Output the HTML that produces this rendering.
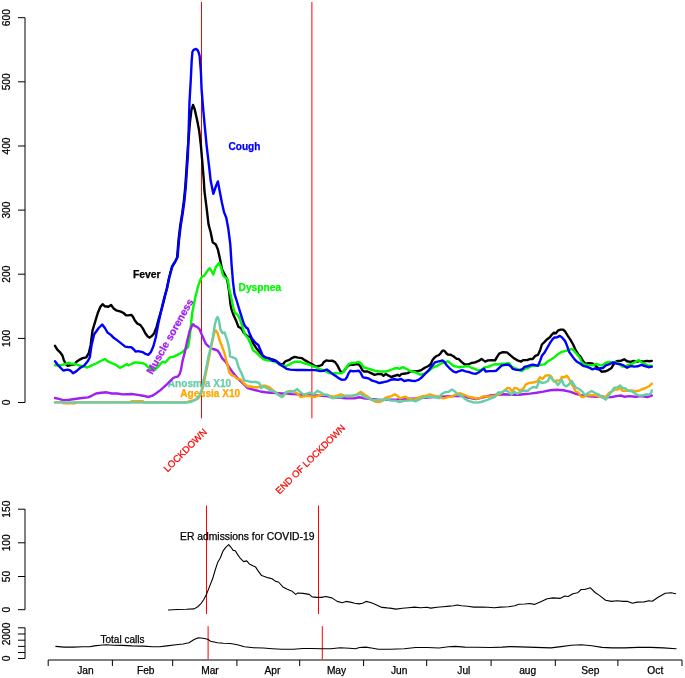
<!DOCTYPE html>
<html><head><meta charset="utf-8"><style>
html,body{margin:0;padding:0;background:#fff;}
svg{display:block;will-change:transform;}
</style></head><body>
<svg width="685" height="678" viewBox="0 0 685 678">
<rect width="685" height="678" fill="#fff"/>
<g stroke="#000" stroke-width="1" fill="none">
<line x1="25" y1="17.7" x2="25" y2="402.5"/>
<line x1="18" y1="402.5" x2="25" y2="402.5"/>
<line x1="18" y1="338.4" x2="25" y2="338.4"/>
<line x1="18" y1="274.2" x2="25" y2="274.2"/>
<line x1="18" y1="210.1" x2="25" y2="210.1"/>
<line x1="18" y1="146.0" x2="25" y2="146.0"/>
<line x1="18" y1="81.8" x2="25" y2="81.8"/>
<line x1="18" y1="17.7" x2="25" y2="17.7"/>
</g>
<text transform="translate(9.9,402.5) rotate(-90)" text-anchor="middle" font-family='"Liberation Sans", sans-serif' font-size="10.2" fill="#000" stroke="#000" stroke-width="0.25">0</text>
<text transform="translate(9.9,338.4) rotate(-90)" text-anchor="middle" font-family='"Liberation Sans", sans-serif' font-size="10.2" fill="#000" stroke="#000" stroke-width="0.25">100</text>
<text transform="translate(9.9,274.2) rotate(-90)" text-anchor="middle" font-family='"Liberation Sans", sans-serif' font-size="10.2" fill="#000" stroke="#000" stroke-width="0.25">200</text>
<text transform="translate(9.9,210.1) rotate(-90)" text-anchor="middle" font-family='"Liberation Sans", sans-serif' font-size="10.2" fill="#000" stroke="#000" stroke-width="0.25">300</text>
<text transform="translate(9.9,146.0) rotate(-90)" text-anchor="middle" font-family='"Liberation Sans", sans-serif' font-size="10.2" fill="#000" stroke="#000" stroke-width="0.25">400</text>
<text transform="translate(9.9,81.8) rotate(-90)" text-anchor="middle" font-family='"Liberation Sans", sans-serif' font-size="10.2" fill="#000" stroke="#000" stroke-width="0.25">500</text>
<text transform="translate(9.9,17.7) rotate(-90)" text-anchor="middle" font-family='"Liberation Sans", sans-serif' font-size="10.2" fill="#000" stroke="#000" stroke-width="0.25">600</text>
<text x="228.5" y="149.8" font-family='"Liberation Sans", sans-serif' font-size="10.1" font-weight="bold" fill="#0000ff" stroke="#0000ff" stroke-width="0.25" text-anchor="start">Cough</text>
<text x="132.9" y="278.2" font-family='"Liberation Sans", sans-serif' font-size="10.4" font-weight="bold" fill="#000" stroke="#000" stroke-width="0.25" text-anchor="start">Fever</text>
<text x="238.6" y="291.1" font-family='"Liberation Sans", sans-serif' font-size="10.2" font-weight="bold" fill="#00f800" stroke="#00f800" stroke-width="0.25" text-anchor="start">Dyspnea</text>
<text x="167.8" y="387.1" font-family='"Liberation Sans", sans-serif' font-size="10.1" font-weight="bold" fill="#66cdaa" stroke="#66cdaa" stroke-width="0.25" text-anchor="start">Anosmia X10</text>
<text x="180.2" y="396.5" font-family='"Liberation Sans", sans-serif' font-size="10.1" font-weight="bold" fill="#ffa500" stroke="#ffa500" stroke-width="0.25" text-anchor="start">Ageusia X10</text>
<g stroke="#f00" stroke-width="1">
<line x1="201.5" y1="2" x2="201.5" y2="418.3"/>
<line x1="311.9" y1="2" x2="311.9" y2="418.3"/>
</g>
<polyline points="55.0,345.8 57.1,349.3 60.6,352.8 62.4,355.5 63.8,359.9 65.9,364.3 67.7,365.8 70.4,365.2 74.8,364.3 76.5,361.7 79.2,359.9 82.7,358.1 86.3,357.3 88.9,352.8 90.7,344.9 92.5,330.7 95.1,321.9 97.8,313.0 100.4,306.8 102.6,304.2 104.9,306.3 108.4,306.8 111.1,305.0 113.7,308.6 116.4,310.4 120.8,311.6 123.5,313.0 126.1,315.3 128.2,315.4 131.5,314.9 133.1,317.0 134.7,320.3 137.2,323.5 140.4,325.1 142.8,328.4 145.3,333.2 147.7,336.5 149.6,337.6 151.8,336.0 154.2,333.2 156.6,326.8 159.0,317.8 161.5,309.7 163.6,302.0 166.8,288.5 168.9,278.5 171.9,267.0 175.0,262.0 177.1,257.8 178.5,240.3 180.2,225.8 182.2,213.4 183.9,201.0 185.3,186.5 186.4,170.0 187.9,147.4 189.9,122.6 191.4,110.2 193.0,105.0 194.7,109.2 197.2,120.5 199.2,130.9 200.9,145.3 202.3,161.8 203.8,180.0 204.4,190.7 206.5,207.2 208.6,224.8 210.6,232.0 212.7,242.3 215.8,244.4 217.9,249.6 220.0,258.9 222.0,269.2 225.1,275.4 227.2,279.6 229.2,292.0 229.7,297.0 230.4,303.8 231.6,309.7 233.7,315.6 236.0,320.4 238.4,326.8 240.2,327.7 241.9,329.2 243.7,332.7 246.0,335.0 247.7,336.4 250.4,336.9 253.0,343.1 256.5,348.4 260.1,352.8 263.6,357.3 267.2,358.1 270.7,359.0 274.2,359.9 276.9,361.7 280.4,364.0 283.1,364.3 284.9,361.7 286.6,360.8 289.3,359.9 291.9,358.1 294.6,356.9 298.1,357.6 301.7,358.1 305.2,360.4 308.5,362.4 312.1,364.2 315.6,366.6 319.2,366.0 322.1,364.8 323.9,361.9 326.2,360.4 329.2,360.9 332.1,360.7 335.1,362.1 337.4,365.4 339.8,370.1 341.6,372.7 343.9,371.3 346.3,367.8 348.7,365.2 351.0,364.8 353.4,364.8 355.7,364.0 358.7,364.2 360.5,366.6 362.2,370.1 364.0,371.5 367.5,371.5 371.1,373.1 374.6,374.8 378.2,373.9 381.8,374.2 383.5,375.8 385.9,373.9 388.3,375.4 391.2,377.0 394.2,376.0 397.7,374.8 399.5,376.0 401.2,374.2 403.6,373.7 407.7,373.1 410.7,371.5 414.2,371.3 417.8,371.1 421.3,370.1 424.8,367.8 428.4,366.0 430.7,364.2 432.5,360.1 434.3,357.7 436.6,356.0 439.0,355.0 440.8,353.0 442.5,350.6 444.3,350.6 446.1,353.0 447.8,354.5 450.8,354.8 453.7,356.5 456.7,358.9 458.5,358.9 461.5,361.9 464.4,364.2 468.0,364.5 471.5,363.0 475.1,362.4 478.6,360.9 481.5,358.9 485.1,361.6 488.0,360.4 491.6,360.1 495.1,360.4 496.9,357.1 499.2,353.6 502.8,352.2 506.9,352.4 510.5,355.4 514.0,358.3 517.5,360.4 521.1,361.6 523.4,360.1 527.0,360.1 530.5,358.9 532.7,359.1 535.3,355.8 538.0,354.8 540.0,350.5 541.9,344.5 544.6,341.9 547.2,339.2 549.9,337.2 551.9,334.6 553.9,332.6 555.9,333.3 557.9,330.6 560.5,329.6 563.2,329.6 565.2,331.7 567.8,335.9 570.5,339.9 573.1,344.5 575.8,350.5 578.4,354.5 580.4,356.5 582.4,359.8 585.1,363.8 588.4,363.1 592.4,363.5 595.7,365.8 598.3,368.4 601.6,371.7 605.3,371.3 608.3,370.1 611.2,368.3 613.0,365.4 614.7,362.4 617.7,360.9 620.6,360.9 624.2,359.3 627.1,361.3 630.7,361.9 633.6,360.9 636.6,361.9 639.5,360.9 643.1,361.6 646.6,360.9 649.5,361.3 651.8,360.9" fill="none" stroke="#000" stroke-width="2.4" stroke-linejoin="round" stroke-linecap="round"/>
<polyline points="55.0,365.2 60.6,365.2 65.9,364.0 68.6,362.6 71.2,364.0 75.7,364.0 80.1,365.8 84.5,366.5 87.2,367.5 90.7,365.8 96.0,363.5 101.3,360.8 104.9,359.0 108.4,361.7 112.8,363.5 116.4,365.2 119.9,367.9 123.5,366.1 127.0,364.0 128.2,365.3 131.5,364.0 134.7,362.4 140.0,362.8 143.1,363.3 145.7,364.6 147.7,366.9 149.8,368.5 152.4,368.7 155.0,369.8 157.0,367.7 159.6,365.1 162.2,362.0 163.7,361.8 165.3,362.6 167.4,360.0 170.0,357.4 173.6,356.8 176.9,355.1 180.1,353.5 182.6,351.9 185.0,349.5 188.1,347.0 189.7,337.3 191.0,324.3 192.2,313.0 193.8,304.9 195.1,298.2 198.2,285.8 201.3,277.5 204.4,275.4 207.1,271.3 209.6,268.2 211.7,271.3 213.3,274.4 215.8,267.2 218.9,263.0 221.0,267.2 223.0,275.4 225.1,277.5 227.2,278.5 228.3,282.8 229.4,290.1 230.7,295.0 231.9,300.9 233.1,306.8 234.8,312.7 237.2,314.5 239.0,316.8 240.7,321.5 242.5,326.8 244.9,334.5 247.7,337.8 250.4,343.1 253.0,350.2 256.5,352.8 260.1,356.4 263.6,359.4 267.2,360.4 272.5,360.8 276.9,362.6 281.3,365.2 284.9,366.5 288.4,365.2 291.9,362.9 295.5,361.7 299.9,361.7 304.3,363.5 308.5,364.2 312.1,366.0 315.6,367.2 319.2,368.9 322.7,370.1 325.6,371.3 329.8,373.4 334.5,373.1 338.0,373.4 341.6,373.4 343.9,371.3 346.3,367.5 348.7,364.2 351.6,363.0 354.6,362.8 357.5,362.1 359.9,362.4 361.6,364.2 364.0,367.5 367.5,368.3 371.1,369.5 374.6,370.7 378.2,371.3 381.7,371.5 385.9,371.5 388.8,370.7 391.8,369.5 394.7,368.3 397.7,368.0 399.5,368.9 402.4,367.2 404.8,368.0 407.7,369.5 410.7,371.3 414.2,371.9 417.2,373.1 420.1,374.6 423.1,374.2 426.0,372.7 429.0,370.7 431.9,368.3 434.9,366.6 437.8,365.6 440.8,363.6 443.7,362.4 446.1,361.9 447.8,361.3 450.8,363.6 453.7,366.0 456.7,366.6 459.7,367.2 464.4,366.6 468.0,366.0 471.5,367.8 475.1,368.9 478.6,370.7 482.1,369.5 484.5,367.5 488.0,366.8 491.6,365.4 495.1,364.2 498.1,364.5 502.2,363.6 505.7,363.6 508.7,363.0 511.6,366.6 515.2,368.3 518.7,369.5 521.7,371.1 524.6,368.9 528.2,367.8 531.7,366.0 535.3,365.8 540.6,364.8 544.6,364.4 547.2,361.8 551.2,359.5 554.5,357.1 557.9,354.2 561.8,351.8 565.8,350.8 569.1,349.9 571.8,348.9 574.4,351.2 577.1,354.5 579.8,357.8 581.7,362.2 584.4,364.4 588.4,365.1 592.4,365.4 596.3,364.0 599.7,365.1 602.4,365.4 605.3,363.0 608.8,361.9 611.8,362.4 615.3,362.4 618.9,363.6 622.4,366.6 625.4,366.6 628.3,364.8 631.9,364.0 635.4,361.9 638.9,360.1 641.9,362.4 644.8,364.2 648.4,365.4 651.8,366.0" fill="none" stroke="#00f800" stroke-width="2.4" stroke-linejoin="round" stroke-linecap="round"/>
<text x="152.2" y="375" font-family='"Liberation Sans", sans-serif' font-size="10.5" font-weight="bold" fill="#a020f0" stroke="#a020f0" stroke-width="0.25" text-anchor="start" transform="rotate(-60.5 152.2 375)">Muscle soreness</text>
<polyline points="55.0,361.2 58.0,365.2 63.3,370.5 67.7,369.6 70.4,370.5 73.0,373.2 76.5,371.1 80.1,367.9 84.5,365.2 88.1,360.8 89.8,357.3 91.6,344.9 94.2,334.2 98.7,328.0 102.2,324.5 104.9,328.0 107.5,332.5 111.1,335.1 113.7,337.8 117.3,340.4 120.8,343.1 125.2,346.6 128.0,347.0 131.5,347.3 133.9,349.5 135.5,351.6 138.0,351.1 140.4,351.6 142.8,352.2 145.3,353.8 148.5,354.8 150.9,351.9 153.4,346.2 155.8,337.3 158.2,324.3 160.7,313.0 162.1,306.4 164.1,298.2 167.2,287.8 169.3,277.5 172.4,266.1 175.5,261.0 177.6,256.8 179.0,240.3 180.7,225.8 182.7,213.4 184.4,201.0 185.8,186.5 186.9,170.0 187.9,155.6 189.5,101.9 190.7,81.3 191.7,60.6 192.4,52.0 193.6,49.8 195.9,49.0 197.4,49.9 198.6,52.3 199.6,55.8 200.9,72.0 201.6,89.6 203.1,108.1 204.8,126.7 206.6,145.3 208.3,159.8 209.5,170.0 210.6,180.3 213.3,193.8 215.8,186.5 217.9,181.4 220.0,192.7 222.0,203.1 224.1,212.4 226.2,217.5 228.2,227.9 230.3,244.4 231.6,265.0 233.1,282.8 234.5,293.8 236.8,301.0 238.5,306.8 240.3,312.7 242.2,318.6 244.1,324.5 246.0,327.4 247.8,328.6 249.5,333.4 252.1,338.7 255.7,343.1 258.3,344.9 260.1,349.3 262.7,355.5 265.4,357.3 268.9,358.1 272.5,360.8 276.0,360.8 279.6,364.3 283.1,366.5 286.6,368.8 290.2,369.6 297.3,370.0 304.3,370.0 309.7,370.1 315.6,370.1 320.3,371.1 323.9,370.7 326.8,369.5 328.6,370.7 332.1,373.7 335.7,376.0 339.2,378.4 341.6,379.8 345.1,379.6 346.9,377.2 348.7,373.1 350.4,370.7 352.8,371.3 355.7,371.1 358.7,370.7 360.5,372.5 362.8,377.2 365.2,377.8 368.7,378.4 372.3,380.7 375.8,381.7 379.3,383.1 381.7,382.5 383.5,382.2 387.1,381.3 390.6,379.8 394.2,379.3 397.7,379.8 401.2,379.0 404.2,381.0 408.3,380.1 411.9,380.7 415.4,381.0 418.9,379.6 421.9,377.2 424.8,374.2 428.4,370.7 431.9,366.0 434.9,362.4 437.8,361.6 440.8,360.9 442.5,360.4 444.3,361.9 446.7,365.2 449.6,368.3 453.2,371.3 456.1,372.5 458.5,371.3 462.1,370.1 465.6,371.3 469.2,372.2 472.7,373.4 475.6,373.9 478.6,372.5 481.5,370.4 483.9,368.7 485.7,371.5 489.2,371.1 492.8,371.1 496.3,370.7 498.7,368.3 501.6,365.6 505.1,364.8 508.7,364.8 511.0,366.6 512.8,368.9 516.4,369.9 519.9,370.1 522.8,368.9 524.6,366.8 528.2,366.0 531.7,364.8 534.0,364.8 538.0,365.8 540.0,361.1 541.9,355.8 544.6,352.5 547.2,347.9 549.9,343.2 552.6,339.2 554.5,337.5 557.2,337.2 559.9,335.9 562.5,337.9 565.2,341.2 567.1,345.9 569.1,351.8 571.8,355.6 574.4,359.1 577.1,361.8 580.4,363.8 583.1,365.8 586.4,366.7 589.7,367.8 592.4,369.4 595.0,368.4 597.7,369.4 600.0,368.3 602.9,368.0 605.9,365.4 609.4,364.2 613.0,362.4 616.5,363.6 620.1,364.2 623.6,365.4 627.1,367.7 630.7,366.0 634.2,366.6 637.7,366.3 641.3,364.8 644.8,366.0 648.4,367.2 651.8,366.6" fill="none" stroke="#0000ff" stroke-width="2.4" stroke-linejoin="round" stroke-linecap="round"/>
<polyline points="55.0,398.0 58.8,398.8 63.3,400.1 69.5,399.7 76.5,398.8 81.9,398.0 88.1,397.4 91.6,395.8 96.0,393.5 101.3,392.7 106.6,392.3 111.9,393.5 117.3,393.5 122.6,394.4 131.5,394.0 138.0,394.9 142.8,395.7 148.4,397.0 150.9,396.2 152.8,395.5 156.5,393.0 160.1,390.4 163.8,387.2 167.4,383.9 170.3,380.8 173.2,378.0 175.5,377.0 177.6,376.6 179.5,374.5 181.0,369.7 182.4,361.6 184.9,351.9 187.3,340.5 189.7,330.8 192.2,325.3 193.3,324.2 194.6,325.9 197.0,326.8 199.5,329.2 201.9,334.9 204.3,340.5 205.9,343.8 208.4,346.2 211.6,348.6 214.9,349.5 217.3,350.3 219.7,353.5 222.2,358.4 225.4,361.6 228.6,366.5 231.9,371.3 235.9,376.2 240.6,381.2 244.2,384.7 247.7,388.2 251.2,389.1 254.8,390.0 258.3,390.9 261.9,391.8 265.4,392.3 270.7,392.7 276.0,393.0 281.3,393.5 286.6,393.5 291.9,394.1 297.3,394.4 302.6,395.3 305.0,394.9 312.1,395.5 319.2,395.5 326.2,396.1 333.3,397.3 340.4,397.8 346.3,398.4 354.6,398.2 359.3,397.3 364.0,398.2 371.1,399.0 378.2,399.6 385.0,399.9 389.4,399.6 397.7,399.4 406.0,398.7 415.4,398.4 424.8,397.8 433.1,397.0 441.4,396.7 450.8,396.3 455.0,396.1 462.1,396.1 469.2,397.8 476.2,399.0 483.3,397.3 490.4,395.5 497.5,394.7 504.6,394.3 511.6,394.7 518.7,394.7 525.8,394.0 530.0,393.6 536.6,392.7 543.3,391.6 549.9,390.3 556.5,389.7 563.2,390.3 569.8,391.6 576.4,394.0 583.1,395.6 589.7,396.3 596.3,396.7 600.0,396.1 605.9,397.2 611.8,397.0 616.5,396.1 620.6,395.5 624.2,396.7 629.5,396.1 635.4,396.7 641.3,396.1 647.2,397.0 651.8,395.5" fill="none" stroke="#a020f0" stroke-width="2.4" stroke-linejoin="round" stroke-linecap="round"/>
<polyline points="55.0,402.4 62.5,402.4 63.5,403.2 75.0,403.2 76.0,402.4 130.7,402.4 131.5,401.2 143.0,401.2 144.0,402.4 186.5,402.2 193.0,400.5 197.8,398.9 201.1,394.0 204.3,381.1 207.6,364.9 210.8,348.6 213.2,337.3 214.9,330.8 216.0,330.5 217.6,333.2 219.7,340.5 222.2,347.0 224.6,353.5 226.2,360.0 227.8,366.5 229.5,373.0 231.9,375.4 234.3,376.2 236.8,378.6 240.6,379.4 244.2,383.8 247.7,386.5 251.2,386.5 254.8,387.3 258.3,387.3 261.9,385.6 265.4,385.6 268.9,387.0 272.5,390.0 276.0,392.7 279.6,395.3 283.1,396.2 286.6,391.8 290.2,390.9 293.7,391.2 297.3,393.5 300.8,397.1 304.3,396.2 308.5,395.8 312.1,396.7 315.6,396.7 319.2,395.5 322.7,394.7 327.4,394.9 331.0,396.3 334.5,396.7 337.4,395.5 340.4,394.3 343.9,395.5 347.5,396.1 352.2,396.1 356.9,394.3 361.0,391.9 364.0,394.3 368.7,397.3 372.3,400.2 375.8,401.9 380.0,402.0 382.4,400.8 385.3,397.8 388.8,396.7 391.8,396.1 394.7,394.3 397.7,396.1 400.1,398.4 403.0,397.3 405.4,396.7 408.3,398.4 413.0,399.6 416.6,399.0 418.9,397.3 422.5,396.1 427.2,395.5 429.6,394.3 433.1,395.5 436.6,396.3 440.2,397.5 443.7,398.4 447.3,397.3 452.0,396.1 456.7,394.3 459.7,393.1 464.4,394.9 469.2,397.0 472.7,397.5 476.8,398.7 480.4,397.8 483.9,396.1 488.0,396.7 491.6,396.1 495.7,395.5 499.2,394.3 503.4,391.4 507.5,387.8 509.9,388.4 512.2,391.4 514.6,387.8 516.9,388.4 519.9,390.8 523.4,388.4 525.8,384.3 529.3,382.9 532.9,382.5 534.0,382.4 537.3,381.3 540.0,377.3 542.6,379.0 545.3,375.7 548.6,375.1 551.2,376.4 553.9,381.7 557.2,380.4 559.9,380.8 561.8,377.0 564.5,377.3 566.5,375.7 568.5,377.7 570.5,381.7 573.1,386.3 575.8,391.6 578.4,392.3 581.1,396.7 583.7,397.0 587.0,395.4 591.0,395.0 595.0,395.4 599.0,396.3 603.5,397.8 606.5,396.1 609.4,392.5 612.4,391.3 614.7,389.6 617.7,389.6 620.1,387.8 622.4,390.8 624.8,390.8 628.3,390.8 631.9,390.4 635.4,391.3 638.9,390.8 642.5,389.0 646.0,387.8 649.5,386.0 651.8,383.7" fill="none" stroke="#ffa500" stroke-width="2.4" stroke-linejoin="round" stroke-linecap="round"/>
<polyline points="55.0,402.4 180.0,402.5 186.5,402.5 191.4,401.8 195.4,399.7 198.6,397.3 201.1,392.4 203.5,381.1 205.9,369.7 208.4,356.8 210.8,347.0 213.2,335.7 214.9,324.3 216.5,318.6 217.6,317.0 218.9,320.3 220.5,330.0 222.5,333.2 224.6,332.4 226.2,337.3 227.8,342.2 229.5,350.3 230.0,356.4 232.7,357.3 236.2,359.0 238.8,367.9 241.5,373.2 244.2,380.3 247.7,381.2 251.2,382.0 255.7,382.0 259.2,382.9 261.0,388.2 263.6,386.5 267.2,388.2 271.6,390.9 275.1,391.8 278.7,395.3 282.2,397.1 285.8,392.3 290.2,391.8 293.7,391.2 297.3,389.1 299.9,391.8 303.5,394.4 305.0,394.3 309.7,392.5 313.3,394.3 317.4,390.8 320.9,392.5 324.5,394.9 327.4,394.7 330.4,397.3 333.3,398.4 336.9,397.0 340.4,397.3 343.9,396.1 347.5,395.8 352.2,395.5 356.9,394.9 360.5,393.7 364.0,396.7 367.5,397.8 371.1,399.6 375.8,400.2 380.0,399.6 383.5,400.2 387.1,399.0 390.6,400.6 395.3,400.6 399.5,402.0 403.6,400.8 408.3,400.6 411.9,400.2 415.4,401.4 418.9,399.6 422.5,397.8 427.2,396.7 431.9,396.7 435.5,397.3 439.0,398.2 441.4,394.3 444.9,392.3 448.4,391.9 452.0,389.6 454.9,391.4 457.4,394.3 460.9,395.5 464.4,398.4 468.0,400.8 472.7,402.2 477.4,402.6 481.0,402.0 484.5,400.8 488.0,399.6 491.6,398.2 495.1,396.7 498.1,392.5 501.6,392.5 504.6,390.4 508.1,391.4 511.6,394.7 514.0,391.4 517.5,393.7 521.1,391.4 524.6,390.8 528.2,390.8 530.0,388.7 533.3,387.0 536.6,387.7 539.3,381.0 541.9,383.0 545.3,382.4 547.9,381.0 549.9,376.4 552.6,379.7 555.2,381.3 557.9,385.0 559.9,382.4 561.8,379.7 563.8,385.0 566.5,386.3 569.1,384.3 571.8,381.0 573.8,384.3 575.8,387.7 579.1,389.0 582.4,391.6 585.1,395.4 588.4,392.7 591.7,391.0 595.0,393.0 598.3,394.3 600.0,395.5 602.9,397.8 605.9,399.6 608.8,395.5 611.8,391.3 614.2,387.8 617.1,387.6 620.1,385.4 622.4,387.8 625.4,388.4 628.3,390.8 631.9,391.3 635.4,393.7 638.9,395.5 642.5,395.5 646.0,394.3 649.5,394.6 651.3,392.5 651.8,390.4" fill="none" stroke="#66cdaa" stroke-width="2.4" stroke-linejoin="round" stroke-linecap="round"/>
<text x="167.6" y="472.6" font-family='"Liberation Sans", sans-serif' font-size="9.6" fill="#f00" stroke="#f00" stroke-width="0.25" text-anchor="start" transform="rotate(-45 167.6 472.6)">LOCKDOWN</text>
<text x="279.5" y="494.7" font-family='"Liberation Sans", sans-serif' font-size="9.45" fill="#f00" stroke="#f00" stroke-width="0.25" text-anchor="start" transform="rotate(-45 279.5 494.7)">END OF LOCKDOWN</text>
<g stroke="#000" stroke-width="1" fill="none">
<line x1="25" y1="509.2" x2="25" y2="609.7"/>
<line x1="18" y1="609.7" x2="25" y2="609.7"/>
<line x1="18" y1="576.5" x2="25" y2="576.5"/>
<line x1="18" y1="542.8" x2="25" y2="542.8"/>
<line x1="18" y1="509.2" x2="25" y2="509.2"/>
</g>
<text transform="translate(9.9,609.7) rotate(-90)" text-anchor="middle" font-family='"Liberation Sans", sans-serif' font-size="10.2" fill="#000" stroke="#000" stroke-width="0.25">0</text>
<text transform="translate(9.9,576.5) rotate(-90)" text-anchor="middle" font-family='"Liberation Sans", sans-serif' font-size="10.2" fill="#000" stroke="#000" stroke-width="0.25">50</text>
<text transform="translate(9.9,542.8) rotate(-90)" text-anchor="middle" font-family='"Liberation Sans", sans-serif' font-size="10.2" fill="#000" stroke="#000" stroke-width="0.25">100</text>
<text transform="translate(9.9,509.2) rotate(-90)" text-anchor="middle" font-family='"Liberation Sans", sans-serif' font-size="10.2" fill="#000" stroke="#000" stroke-width="0.25">150</text>
<g stroke="#f00" stroke-width="1">
<line x1="206.5" y1="505.5" x2="206.5" y2="614"/>
<line x1="318.5" y1="505.5" x2="318.5" y2="614"/>
</g>
<text x="180" y="540" font-family='"Liberation Sans", sans-serif' font-size="10.35" fill="#000" stroke="#000" stroke-width="0.25" text-anchor="start">ER admissions for COVID-19</text>
<polyline points="168.4,610.0 177.5,609.5 186.3,609.3 194.2,608.9 197.7,606.8 201.2,603.3 203.8,599.5 206.4,594.6 209.1,587.6 212.6,578.8 215.2,570.0 217.8,562.2 220.4,557.8 223.1,550.8 225.7,547.3 228.7,544.6 231.0,547.3 233.2,550.4 235.3,550.8 238.0,555.1 240.6,558.7 243.7,561.6 246.7,560.9 249.3,563.9 252.9,565.7 255.5,566.9 258.1,570.9 261.6,575.6 265.1,576.7 268.6,577.9 272.1,578.8 275.6,581.4 278.5,582.0 282.9,586.9 287.3,589.2 291.6,590.9 295.7,594.4 297.8,593.0 303.0,593.4 309.2,594.4 312.1,596.9 317.0,597.4 321.4,597.4 325.8,596.5 331.9,597.9 337.2,601.4 342.4,602.7 345.9,601.4 350.3,602.1 354.7,603.2 359.1,603.9 362.6,603.2 366.1,601.4 371.4,602.7 376.6,604.9 381.9,607.4 387.1,607.9 390.0,608.1 396.1,609.1 402.3,608.3 408.4,607.7 414.5,607.1 420.7,607.7 426.8,607.3 430.9,608.1 437.0,607.3 443.1,606.7 449.3,606.1 453.4,605.7 457.4,605.0 461.5,605.7 467.7,606.3 473.8,607.1 482.0,607.1 488.1,607.3 494.2,607.7 500.4,607.1 508.5,606.7 514.7,605.7 518.8,604.2 524.9,604.0 529.7,603.5 534.3,604.4 540.2,601.9 547.2,598.8 553.0,597.9 560.0,598.4 564.7,596.0 568.2,596.5 572.9,593.7 577.6,592.8 581.1,589.5 584.6,589.5 590.4,587.8 595.1,592.5 599.7,595.6 605.6,600.2 611.4,601.4 617.3,600.7 623.1,601.4 627.8,601.4 632.5,603.3 637.1,602.1 644.1,601.9 648.8,600.7 652.3,601.2 658.1,597.2 665.2,593.2 671.0,592.8 675.7,593.7" fill="none" stroke="#000" stroke-width="1.1" stroke-linejoin="round" stroke-linecap="round"/>
<g stroke="#000" stroke-width="1" fill="none">
<line x1="25" y1="627.8" x2="25" y2="658.5"/>
<line x1="18" y1="658.5" x2="25" y2="658.5"/>
<line x1="18" y1="652.5" x2="25" y2="652.5"/>
<line x1="18" y1="646.4" x2="25" y2="646.4"/>
<line x1="18" y1="640.2" x2="25" y2="640.2"/>
<line x1="18" y1="634.0" x2="25" y2="634.0"/>
<line x1="18" y1="627.8" x2="25" y2="627.8"/>
</g>
<text transform="translate(9.9,658.5) rotate(-90)" text-anchor="middle" font-family='"Liberation Sans", sans-serif' font-size="10.2" fill="#000" stroke="#000" stroke-width="0.25">0</text>
<text transform="translate(9.9,634.0) rotate(-90)" text-anchor="middle" font-family='"Liberation Sans", sans-serif' font-size="10.2" fill="#000" stroke="#000" stroke-width="0.25">2000</text>
<g stroke="#f00" stroke-width="1">
<line x1="208.1" y1="626.2" x2="208.1" y2="659.2"/>
<line x1="322.3" y1="626.2" x2="322.3" y2="659.2"/>
</g>
<text x="100.5" y="643.2" font-family='"Liberation Sans", sans-serif' font-size="10" fill="#000" stroke="#000" stroke-width="0.25" text-anchor="start">Total calls</text>
<polyline points="55.8,646.4 64.0,647.1 73.4,647.1 82.7,646.8 89.7,646.8 94.4,645.9 100.2,645.2 106.1,644.7 113.1,645.2 122.4,645.4 131.8,645.9 143.4,646.1 152.8,646.8 159.8,646.8 166.8,645.9 176.1,644.7 183.1,644.0 189.0,642.8 193.7,639.8 198.3,637.7 203.0,638.2 207.7,639.3 210.5,641.2 217.5,642.8 223.4,643.3 230.4,643.5 237.4,644.7 244.4,646.8 253.7,647.8 263.1,648.0 272.4,648.7 281.8,649.2 293.4,649.2 302.8,648.5 312.1,648.5 321.5,648.7 330.8,648.7 340.2,647.8 349.5,648.2 355.3,648.7 359.7,647.5 365.5,647.1 371.4,648.0 378.4,649.2 390.0,649.2 404.1,648.7 415.7,647.5 427.4,647.5 439.1,648.0 448.4,646.8 455.4,646.4 464.8,647.1 476.5,647.3 490.5,647.5 502.2,647.1 510.0,646.6 520.2,646.9 535.5,647.4 550.9,647.9 561.1,646.6 571.3,645.3 581.5,644.8 591.8,645.8 602.0,647.4 612.2,647.9 625.0,647.9 637.7,647.4 650.5,647.4 663.3,647.9 676.1,648.7" fill="none" stroke="#000" stroke-width="1.1" stroke-linejoin="round" stroke-linecap="round"/>
<g stroke="#000" stroke-width="1" fill="none">
<line x1="48.2" y1="660" x2="682" y2="660"/>
<line x1="48.2" y1="660" x2="48.2" y2="666"/>
<line x1="112.4" y1="660" x2="112.4" y2="666"/>
<line x1="172.7" y1="660" x2="172.7" y2="666"/>
<line x1="236.9" y1="660" x2="236.9" y2="666"/>
<line x1="299.7" y1="660" x2="299.7" y2="666"/>
<line x1="363.6" y1="660" x2="363.6" y2="666"/>
<line x1="426.7" y1="660" x2="426.7" y2="666"/>
<line x1="491.1" y1="660" x2="491.1" y2="666"/>
<line x1="555.3" y1="660" x2="555.3" y2="666"/>
<line x1="617.9" y1="660" x2="617.9" y2="666"/>
<line x1="682" y1="660" x2="682" y2="666"/>
</g>
<text x="85.4" y="673.6" text-anchor="middle" font-family='"Liberation Sans", sans-serif' font-size="10.2" fill="#000" stroke="#000" stroke-width="0.25">Jan</text>
<text x="145.7" y="673.6" text-anchor="middle" font-family='"Liberation Sans", sans-serif' font-size="10.2" fill="#000" stroke="#000" stroke-width="0.25">Feb</text>
<text x="210" y="673.6" text-anchor="middle" font-family='"Liberation Sans", sans-serif' font-size="10.2" fill="#000" stroke="#000" stroke-width="0.25">Mar</text>
<text x="272.4" y="673.6" text-anchor="middle" font-family='"Liberation Sans", sans-serif' font-size="10.2" fill="#000" stroke="#000" stroke-width="0.25">Apr</text>
<text x="336.5" y="673.6" text-anchor="middle" font-family='"Liberation Sans", sans-serif' font-size="10.2" fill="#000" stroke="#000" stroke-width="0.25">May</text>
<text x="399.2" y="673.6" text-anchor="middle" font-family='"Liberation Sans", sans-serif' font-size="10.2" fill="#000" stroke="#000" stroke-width="0.25">Jun</text>
<text x="463.8" y="673.6" text-anchor="middle" font-family='"Liberation Sans", sans-serif' font-size="10.2" fill="#000" stroke="#000" stroke-width="0.25">Jul</text>
<text x="527.7" y="673.6" text-anchor="middle" font-family='"Liberation Sans", sans-serif' font-size="10.2" fill="#000" stroke="#000" stroke-width="0.25">aug</text>
<text x="590.3" y="673.6" text-anchor="middle" font-family='"Liberation Sans", sans-serif' font-size="10.2" fill="#000" stroke="#000" stroke-width="0.25">Sep</text>
<text x="655.3" y="673.6" text-anchor="middle" font-family='"Liberation Sans", sans-serif' font-size="10.2" fill="#000" stroke="#000" stroke-width="0.25">Oct</text>
</svg>
</body></html>
